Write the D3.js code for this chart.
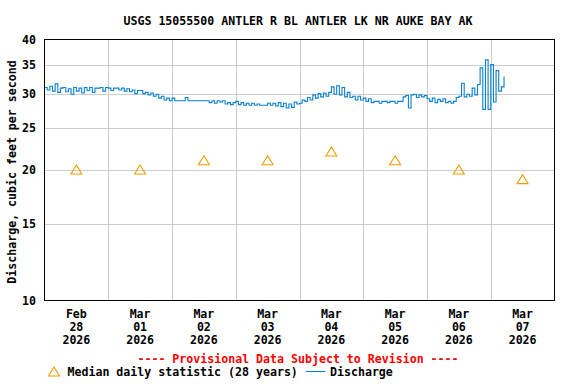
<!DOCTYPE html>
<html>
<head>
<meta charset="utf-8">
<script src="https://cdn.jsdelivr.net/npm/d3@7"></script>
<style>
body { margin: 0; background: #fff; }
text { font-family: "DejaVu Sans Mono", monospace; font-weight: bold; font-size: 11.6px; }
</style>
</head>
<body>
<svg id="chart" width="576" height="384"></svg>
<script>
// hourly discharge, cfs, starting Feb 28 2026 00:00
var feb28 = [31.0,30.6,31.2,30.4,31.6,30.2,30.9,31.0,30.3,30.8,29.9,31.0,30.4,30.9,30.1,31.0,30.5,31.0,30.2,30.9,30.9,31.0,30.4,31.0];
var mar01 = [30.9,30.5,30.9,30.9,30.6,30.9,30.4,30.8,30.3,30.6,30.0,30.5,30.5,30.0,30.2,29.8,30.1,29.6,29.9,29.3,29.6,29.0,29.3,28.9];
var mar02 = [29.3,28.9,28.9,28.9,28.9,29.4,28.9,28.9,28.9,28.9,28.9,28.9,28.9,28.9,28.6,28.9,28.5,28.9,28.7,28.9,28.4,28.6,28.3,28.6];
var mar03 = [28.8,28.3,28.6,28.2,28.5,28.2,28.5,28.2,28.4,28.2,28.2,28.2,28.5,28.2,28.5,28.1,28.6,28.0,28.5,27.8,28.4,27.9,28.7,28.4];
var mar04 = [28.5,29.0,28.8,29.4,29.0,29.8,29.3,30.0,29.5,30.1,29.6,30.2,31.1,29.9,31.3,29.8,31.0,29.5,30.2,29.4,29.6,29.0,29.6,29.0];
var mar05 = [29.3,28.8,29.2,28.6,28.8,28.8,28.5,28.8,28.8,28.6,28.8,28.8,28.5,28.8,28.8,29.5,29.7,27.8,29.8,29.9,29.4,29.8,29.5,29.7];
var mar06 = [29.2,28.8,29.3,28.6,29.1,28.8,29.2,28.6,28.8,28.5,28.8,29.4,29.6,31.7,29.5,29.9,29.6,30.9,29.8,31.5,34.4,27.6,35.9,27.6];
var mar07 = [35.0,28.7,33.9,30.4,31.1,32.8];
var discharge = [].concat(feb28, mar01, mar02, mar03, mar04, mar05, mar06, mar07);

var medianValues = [20, 20, 21, 21, 22, 21, 20, 19];
var monthLabels = ["Feb","Mar","Mar","Mar","Mar","Mar","Mar","Mar"];
var dayLabels = ["28","01","02","03","04","05","06","07"];
var yearLabels = ["2026","2026","2026","2026","2026","2026","2026","2026"];
var yTicks = [10, 15, 20, 25, 30, 35, 40];

var start = new Date(2026, 1, 28);
var end = new Date(2026, 2, 8);

var plotL = 44.5, plotR = 554.5, plotT = 39.5, plotB = 300.5;

var x = d3.scaleTime().domain([start, end]).range([plotL, plotR]);
var y = d3.scaleLog().domain([10, 40]).range([plotB, plotT]);

var svg = d3.select("#chart");

// grid
var days = d3.timeDay.range(d3.timeDay.offset(start, 1), end);
svg.append("g").selectAll("line").data(days).enter().append("line")
    .attr("x1", function(d) { return Math.round(x(d)) + 0.5; })
    .attr("x2", function(d) { return Math.round(x(d)) + 0.5; })
    .attr("y1", plotT).attr("y2", plotB)
    .attr("stroke", "#cccccc");
svg.append("g").selectAll("line").data(yTicks.slice(1, -1)).enter().append("line")
    .attr("x1", plotL).attr("x2", plotR)
    .attr("y1", function(d) { return Math.round(y(d)) + 0.5; })
    .attr("y2", function(d) { return Math.round(y(d)) + 0.5; })
    .attr("stroke", "#cccccc");

// y labels
svg.append("g").selectAll("text").data(yTicks).enter().append("text")
    .attr("x", 36).attr("y", function(d) { return y(d); })
    .attr("dy", "0.36em")
    .attr("text-anchor", "end")
    .text(function(d) { return d; });

// x labels at noon
var noons = d3.range(8).map(function(i) { return d3.timeHour.offset(start, i * 24 + 12); });
var xl = svg.append("g").selectAll("g").data(noons).enter().append("g");
xl.append("text").attr("x", function(d) { return x(d); }).attr("y", 318)
    .attr("text-anchor", "middle").text(function(d, i) { return monthLabels[i]; });
xl.append("text").attr("x", function(d) { return x(d); }).attr("y", 331)
    .attr("text-anchor", "middle").text(function(d, i) { return dayLabels[i]; });
xl.append("text").attr("x", function(d) { return x(d); }).attr("y", 344)
    .attr("text-anchor", "middle").text(function(d, i) { return yearLabels[i]; });

// discharge line
var valueline = d3.line()
    .curve(d3.curveStepAfter)
    .x(function(d, i) { return x(d3.timeHour.offset(start, i)); })
    .y(function(d) { return y(d); });

svg.append("path")
    .datum(discharge)
    .attr("d", valueline)
    .attr("fill", "none")
    .attr("stroke", "#0a80d0")
    .attr("stroke-width", 1.1);

// median triangles
var tri = "M0,-5L5.5,4L-5.5,4Z";
svg.append("g").selectAll("path").data(medianValues).enter().append("path")
    .attr("d", tri)
    .attr("transform", function(d, i) { return "translate(" + x(noons[i]) + "," + y(d) + ")"; })
    .attr("fill", "none")
    .attr("stroke", "#f39c00")
    .attr("stroke-width", 1.1);

// frame
svg.append("rect")
    .attr("x", plotL).attr("y", plotT)
    .attr("width", plotR - plotL).attr("height", plotB - plotT)
    .attr("fill", "none").attr("stroke", "#000");

// title
svg.append("text").attr("x", 298).attr("y", 24.5).attr("text-anchor", "middle")
    .text("USGS 15055500 ANTLER R BL ANTLER LK NR AUKE BAY AK");

// y axis title
svg.append("text")
    .attr("transform", "translate(16,172) rotate(-90)")
    .attr("text-anchor", "middle")
    .text("Discharge, cubic feet per second");

// provisional
svg.append("text").attr("x", 298).attr("y", 363).attr("text-anchor", "middle")
    .attr("fill", "#ff0000")
    .text("---- Provisional Data Subject to Revision ----");

// legend
svg.append("path").attr("d", tri)
    .attr("transform", "translate(54,372)")
    .attr("fill", "none").attr("stroke", "#f39c00").attr("stroke-width", 1.1);
svg.append("text").attr("x", 67.5).attr("y", 376).text("Median daily statistic (28 years)");
svg.append("line").attr("x1", 306).attr("x2", 325).attr("y1", 371.5).attr("y2", 371.5)
    .attr("stroke", "#0a80d0").attr("stroke-width", 1.1);
svg.append("text").attr("x", 330).attr("y", 376).text("Discharge");
</script>
</body>
</html>
